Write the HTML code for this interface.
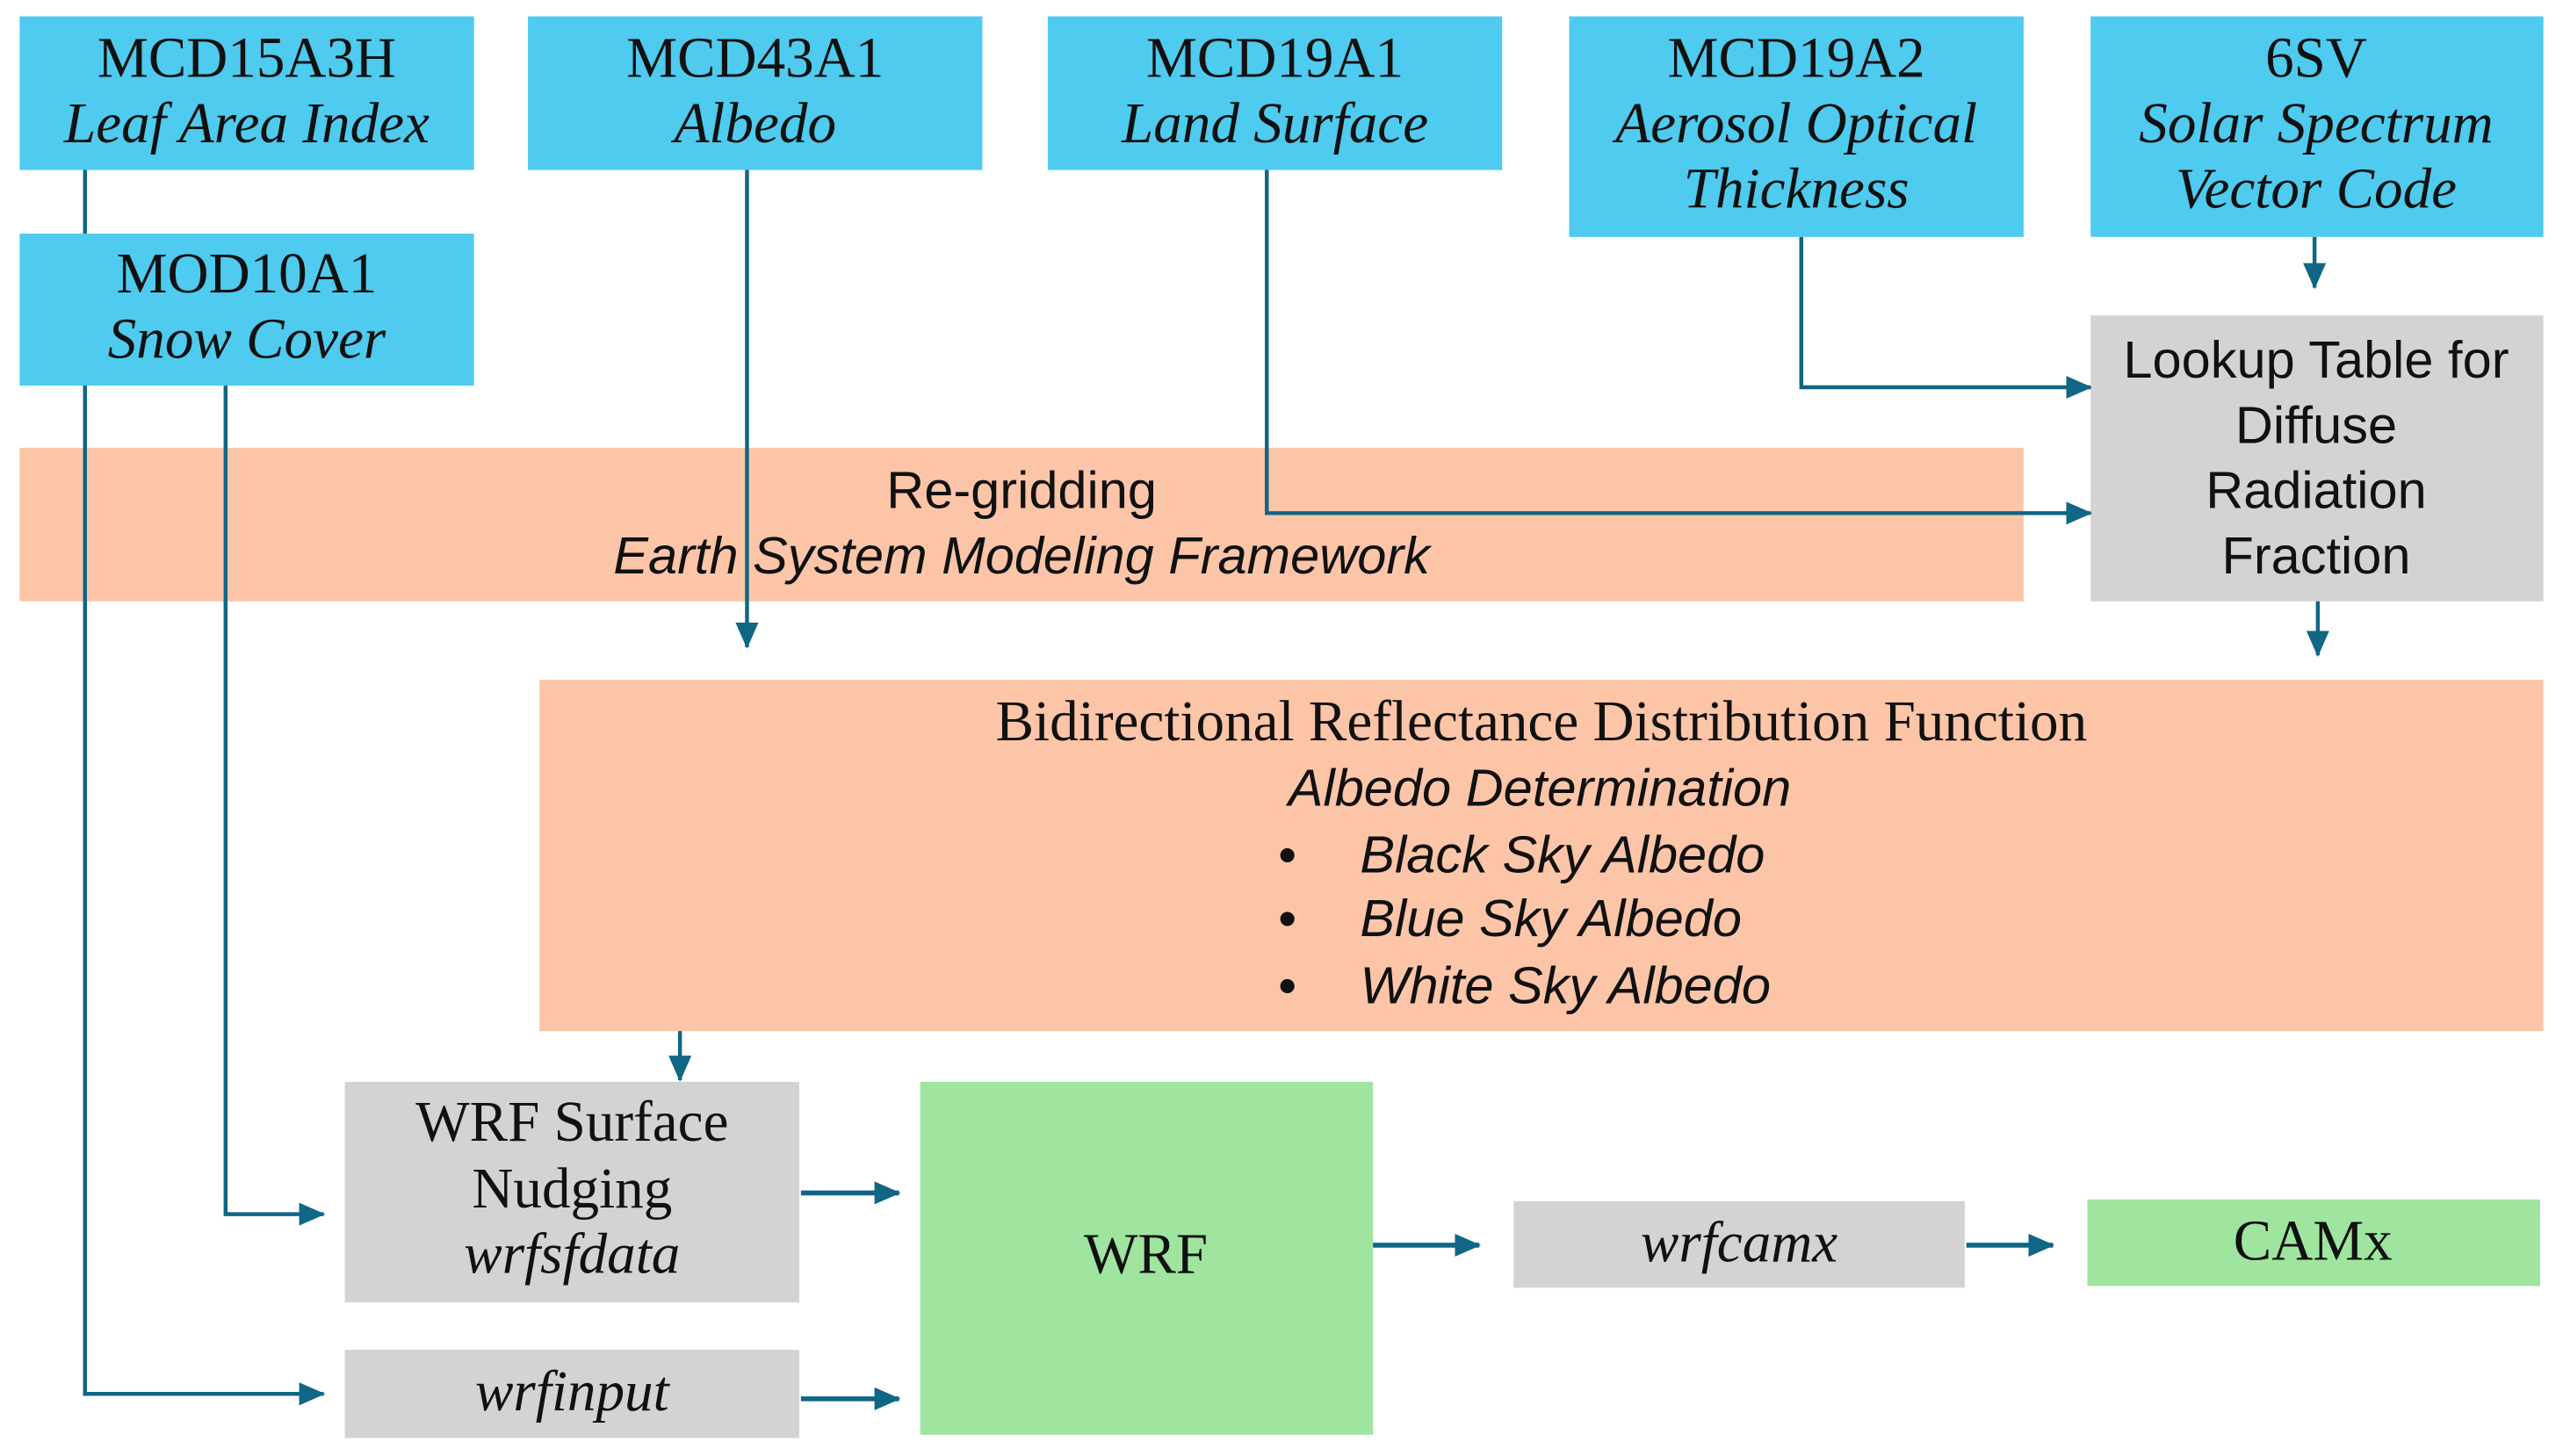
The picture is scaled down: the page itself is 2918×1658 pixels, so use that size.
<!DOCTYPE html>
<html><head><meta charset="utf-8"><style>html,body{margin:0;padding:0;background:#fff}svg{display:block}</style></head>
<body>
<svg width="2918" height="1658" viewBox="0 0 1568 891" preserveAspectRatio="none" xmlns="http://www.w3.org/2000/svg">
<defs>
<marker id="a" markerWidth="16" markerHeight="14" refX="15" refY="7" orient="auto" markerUnits="userSpaceOnUse" viewBox="0 0 16 14">
<path d="M0,0 L16,7 L0,14 z" fill="#0f6685"/>
</marker>
</defs>
<g fill="#4ecbee">
<rect x="12" y="10" width="278" height="94"/>
<rect x="323" y="10" width="278" height="94"/>
<rect x="641" y="10" width="278" height="94"/>
<rect x="960" y="10" width="278" height="135"/>
<rect x="1279" y="10" width="277" height="135"/>
<rect x="12" y="143" width="278" height="93"/>
</g>
<g fill="#fdc5a8">
<rect x="12" y="274" width="1226" height="94"/>
<rect x="330" y="416" width="1226" height="215"/>
</g>
<g fill="#d3d3d3">
<rect x="1279" y="193" width="277" height="175"/>
<rect x="211" y="662" width="278" height="135"/>
<rect x="211" y="826" width="278" height="54"/>
<rect x="926" y="735" width="276" height="53"/>
</g>
<g fill="#9fe5a0">
<rect x="563" y="662" width="277" height="216"/>
<rect x="1277" y="734" width="277" height="53"/>
</g>
<g stroke="#0f6685" stroke-width="2.4" fill="none">
<path d="M52,104 V143"/>
<path d="M52,236 V853 H198" marker-end="url(#a)"/>
<path d="M138,236 V743 H198" marker-end="url(#a)"/>
<path d="M457,104 V396" marker-end="url(#a)"/>
<path d="M775,104 V314 H1279" marker-end="url(#a)"/>
<path d="M1102,145 V237 H1279" marker-end="url(#a)"/>
<path d="M1416,145 V176" marker-end="url(#a)"/>
<path d="M1418,368 V401" marker-end="url(#a)"/>
<path d="M416,631 V661" marker-end="url(#a)"/>
<path d="M490,730 H550" stroke-width="3" marker-end="url(#a)"/>
<path d="M490,856 H550" stroke-width="3" marker-end="url(#a)"/>
<path d="M840,762 H905" stroke-width="3" marker-end="url(#a)"/>
<path d="M1203,762 H1256" stroke-width="3" marker-end="url(#a)"/>
</g>
<g font-family="Liberation Serif, serif" font-size="35" text-anchor="middle" fill="#111">
<text x="151" y="47">MCD15A3H</text>
<text x="151" y="87" font-style="italic">Leaf Area Index</text>
<text x="462" y="47">MCD43A1</text>
<text x="462" y="87" font-style="italic">Albedo</text>
<text x="780" y="47">MCD19A1</text>
<text x="780" y="87" font-style="italic">Land Surface</text>
<text x="1099" y="47">MCD19A2</text>
<text x="1099" y="87" font-style="italic">Aerosol Optical</text>
<text x="1099" y="127" font-style="italic">Thickness</text>
<text x="1417" y="47">6SV</text>
<text x="1417" y="87" font-style="italic">Solar Spectrum</text>
<text x="1417" y="127" font-style="italic">Vector Code</text>
<text x="151" y="179">MOD10A1</text>
<text x="151" y="219" font-style="italic">Snow Cover</text>
<text x="943" y="453">Bidirectional Reflectance Distribution Function</text>
<text x="350" y="698">WRF Surface</text>
<text x="350" y="739">Nudging</text>
<text x="350" y="779" font-style="italic">wrfsfdata</text>
<text x="350" y="863" font-style="italic">wrfinput</text>
<text x="701" y="779">WRF</text>
<text x="1064" y="772" font-style="italic">wrfcamx</text>
<text x="1415" y="771">CAMx</text>
</g>
<g font-family="Liberation Sans, sans-serif" font-size="32" fill="#111">
<g text-anchor="middle">
<text x="625" y="311">Re-gridding</text>
<text x="625" y="351" font-style="italic">Earth System Modeling Framework</text>
<text x="1417" y="231">Lookup Table for</text>
<text x="1417" y="271">Diffuse</text>
<text x="1417" y="311">Radiation</text>
<text x="1417" y="351">Fraction</text>
<text x="942" y="493" font-style="italic">Albedo Determination</text>
</g>
<g font-style="italic">
<text x="782" y="534" font-style="normal">•</text>
<text x="832" y="534">Black Sky Albedo</text>
<text x="782" y="573" font-style="normal">•</text>
<text x="832" y="573">Blue Sky Albedo</text>
<text x="782" y="614" font-style="normal">•</text>
<text x="832" y="614">White Sky Albedo</text>
</g>
</g>
</svg>
</body></html>
